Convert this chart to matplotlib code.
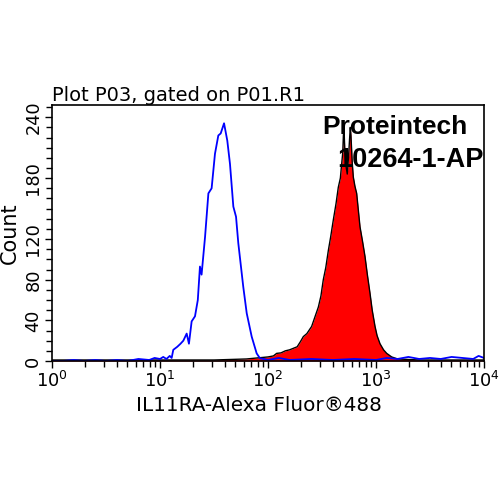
import numpy as np
import matplotlib.pyplot as plt
from matplotlib.ticker import MultipleLocator, LogLocator, NullFormatter

# Isotype control (blue), log10 of fluorescence and counts
blue_log = [0.0, 0.1, 0.2, 0.3, 0.4, 0.5, 0.6, 0.7, 0.8, 0.9, 0.95, 1.0, 1.03, 1.06,
            1.09, 1.108, 1.123, 1.16, 1.19, 1.216, 1.247, 1.268, 1.293, 1.324, 1.35,
            1.370, 1.385, 1.417, 1.448, 1.478, 1.509, 1.540, 1.562, 1.593, 1.623,
            1.648, 1.679, 1.704, 1.725, 1.771, 1.803, 1.849, 1.895, 1.926, 1.96,
            2.0, 2.1, 2.2, 2.4, 2.6, 2.8, 3.0, 3.1, 3.2, 3.3, 3.4, 3.5, 3.6, 3.7,
            3.8, 3.9, 3.95, 4.0]
blue_counts = [0, 0, 1, 0, 1, 0, 1, 0, 2, 1, 3, 2, 4, 2,
               5, 3, 11, 14, 17, 20, 27, 17, 39, 44, 60,
               93, 85, 122, 165, 170, 204, 222, 224, 234, 217,
               194, 152, 142, 116, 73, 47, 24, 7.5, 2.6, 2,
               1, 3, 1, 2, 1, 2, 1, 3, 2, 4, 2, 3, 2, 4,
               3, 2, 5, 3]

# Stained sample (red), log10 of fluorescence and counts
red_log = [0.0, 0.5, 1.0, 1.5, 1.8, 1.9, 2.0, 2.05, 2.08, 2.12, 2.16, 2.20,
           2.235, 2.27, 2.30, 2.327, 2.36, 2.404, 2.43, 2.466, 2.49, 2.512,
           2.535, 2.559, 2.58, 2.605, 2.63, 2.651, 2.67, 2.682, 2.692, 2.698,
           2.704, 2.712, 2.725, 2.734, 2.745, 2.755, 2.762, 2.768, 2.78, 2.79,
           2.805, 2.821, 2.835, 2.852, 2.875, 2.898, 2.92, 2.944, 2.965, 2.991,
           3.01, 3.037, 3.07, 3.099, 3.145, 3.2, 3.4, 3.6, 3.8, 4.0]
red_counts = [1, 1, 1, 1, 2, 3, 4, 5, 7.5, 8, 10, 11,
              12.5, 14, 19, 24, 27, 34, 42, 53, 64, 80,
              92, 109, 122, 139, 155, 171, 180, 194, 205, 222,
              228, 205, 190, 184, 200, 218, 230, 222, 195, 181,
              172, 165, 150, 132, 118, 103, 85, 67, 50, 34,
              25, 17, 11, 7.5, 4, 2, 1, 1, 1, 1]

y_ticks = [0, 40, 80, 120, 180, 240]

fig = plt.figure(figsize=(5, 5), dpi=100)
ax = fig.add_axes([0.104, 0.278, 0.864, 0.512])

red_x = 10 ** np.array(red_log)
blue_x = 10 ** np.array(blue_log)
ax.fill_between(red_x, red_counts, 0, color='#ff0000', linewidth=0)
ax.plot(red_x, red_counts, color='black', linewidth=1.0)
ax.plot(blue_x, blue_counts, color='#0000ff', linewidth=1.3)

ax.set_xscale('log')
ax.set_xlim(1, 1e4)
ax.set_ylim(0, 252)

ax.xaxis.set_major_locator(LogLocator(base=10, numticks=10))
ax.xaxis.set_minor_locator(LogLocator(base=10, subs=np.arange(2, 10), numticks=20))
ax.xaxis.set_minor_formatter(NullFormatter())
ax.set_yticks(y_ticks)
ax.yaxis.set_minor_locator(MultipleLocator(10))

ax.tick_params(axis='both', which='major', direction='out', length=5, width=1,
               labelsize=12.8, pad=2)
ax.tick_params(axis='both', which='minor', direction='out', length=4, width=1)
for lbl in ax.get_yticklabels():
    lbl.set_rotation(90)
    lbl.set_va('center')
for s in ax.spines.values():
    s.set_linewidth(1.2)

ax.set_xlabel('IL11RA-Alexa Fluor®488', fontsize=14.4)
ax.xaxis.set_label_coords(0.48, -0.135)
ax.set_ylabel('Count', fontsize=15, labelpad=3)
ax.set_title('Plot P03, gated on P01.R1', fontsize=14, loc='left', pad=2)

ax.text(0.961, 0.961, 'Proteintech', transform=ax.transAxes, ha='right', va='top',
        fontsize=19, fontweight='bold', family='Liberation Sans')
ax.text(0.998, 0.836, '10264-1-AP', transform=ax.transAxes, ha='right', va='top',
        fontsize=19.5, fontweight='bold', family='Liberation Sans')

fig.savefig('out.png', dpi=100)
